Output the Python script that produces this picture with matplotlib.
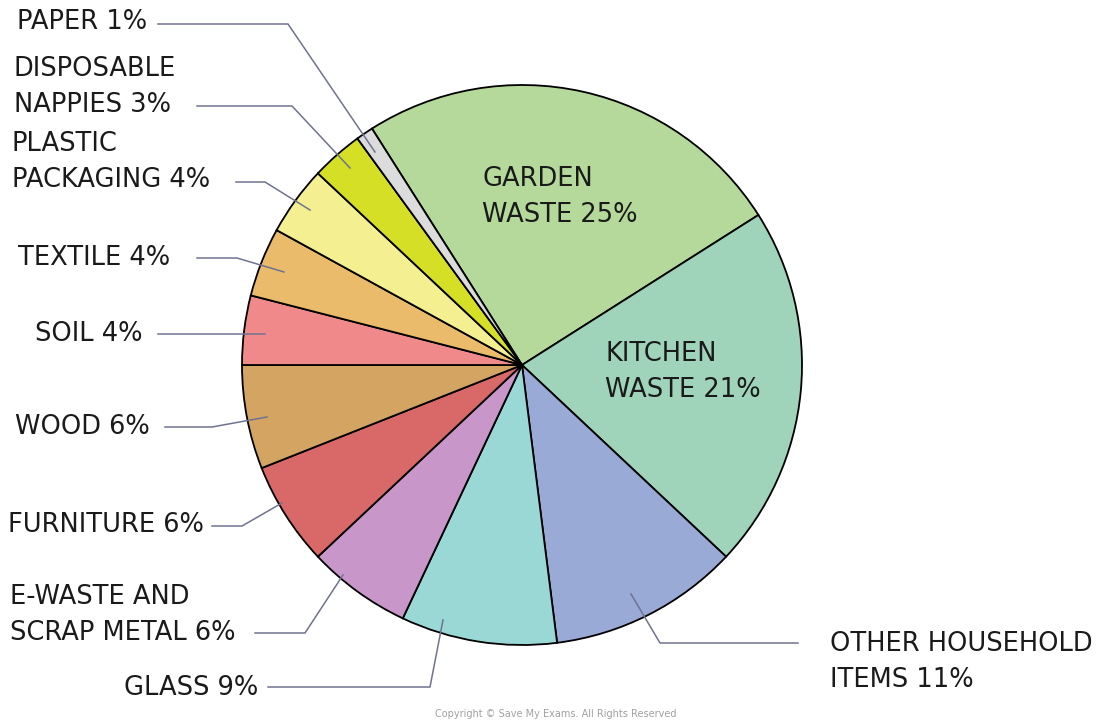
import matplotlib.pyplot as plt

# data, clockwise from garden waste
labels = ['GARDEN\nWASTE 25%', 'KITCHEN\nWASTE 21%', 'OTHER HOUSEHOLD\nITEMS 11%', 'GLASS 9%',
          'E-WASTE AND\nSCRAP METAL 6%', 'FURNITURE 6%', 'WOOD 6%', 'SOIL 4%', 'TEXTILE 4%',
          'PLASTIC\nPACKAGING 4%', 'DISPOSABLE\nNAPPIES 3%', 'PAPER 1%']
values = [25, 21, 11, 9, 6, 6, 6, 4, 4, 4, 3, 1]
colors = ['#b5d99a', '#9fd4bb', '#9aaad6', '#9ad8d6', '#c896c8', '#d96868',
          '#d4a463', '#f08a8a', '#e9bb6a', '#f4ef90', '#d5df26', '#dcdcdc']

W, H = 1115, 721
fig = plt.figure(figsize=(W / 100, H / 100), dpi=100)
ax = fig.add_axes([0, 0, 1, 1])

cx, cy, r = 522, H - 365, 280
ax.pie(values, colors=colors, startangle=122.4, counterclock=False,
       center=(cx, cy), radius=r, frame=True,
       wedgeprops=dict(edgecolor='black', linewidth=1.3))
ax.set_xlim(0, W)
ax.set_ylim(0, H)
ax.axis('off')

fs = 18.5
tc = '#1a1a1a'
lc = '#6f7390'
ls = 1.5

def y(p):
    return H - p

# labels inside the pie
ax.text(482, y(197), labels[0], fontsize=fs, color=tc, va='center', ha='left', linespacing=ls)
ax.text(605, y(372), labels[1], fontsize=fs, color=tc, va='center', ha='left', linespacing=ls)

# outside labels: (text x, text y, alignment, leader points)
outside = {
    2: (830, 662, 'left', [(798, 643), (660, 643), (631, 594)]),
    3: (258, 688, 'right', [(268, 687), (430, 687), (443, 620)]),
    4: (10, 615, 'left', [(255, 633), (305, 633), (343, 575)]),
    5: (8, 525, 'left', [(212, 526), (242, 526), (282, 503)]),
    6: (15, 427, 'left', [(165, 427), (212, 427), (267, 417)]),
    7: (35, 334, 'left', [(158, 334), (265, 334)]),
    8: (18, 258, 'left', [(197, 258), (237, 258), (284, 272)]),
    9: (12, 162, 'left', [(236, 182), (265, 182), (310, 210)]),
    10: (14, 87, 'left', [(197, 106), (292, 106), (350, 168)]),
    11: (17, 22, 'left', [(158, 24), (288, 24), (375, 152)]),
}
for i, (tx, ty, ha, pts) in outside.items():
    ax.text(tx, y(ty), labels[i], fontsize=fs, color=tc, va='center', ha=ha, linespacing=ls)
    ax.plot([p[0] for p in pts], [y(p[1]) for p in pts], color=lc, lw=1.1)

ax.text(556, y(714), 'Copyright \u00a9 Save My Exams. All Rights Reserved', fontsize=7,
        color='#a0a0a0', ha='center', va='center')

fig.savefig('out.png', dpi=100, facecolor='white')
